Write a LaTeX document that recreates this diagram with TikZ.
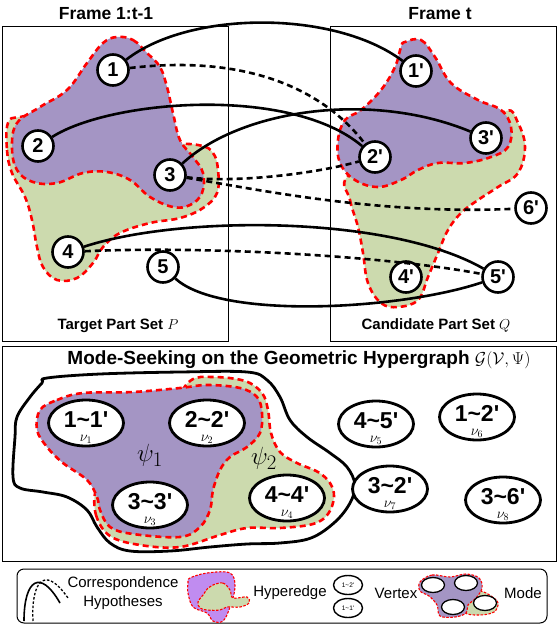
\documentclass[tikz,border=0pt]{standalone}
\usepackage[no-math]{fontspec}
\setmainfont{Liberation Sans}
\usetikzlibrary{shapes.geometric,calc}
\definecolor{hpurple}{RGB}{164,149,196}
\definecolor{hgreen}{RGB}{204,218,174}
\definecolor{lpurple}{RGB}{192,140,240}
\begin{document}
\begin{tikzpicture}[x=1pt,y=-1pt,
  part/.style={circle,draw,line width=2.6pt,fill=white,minimum size=31pt,inner sep=0pt,font=\fontsize{20}{22}\selectfont\bfseries},
  vert/.style={ellipse,draw,line width=2.8pt,fill=white,minimum width=75pt,minimum height=46pt,inner sep=0pt},
  verttext/.style={font=\fontsize{23}{25}\selectfont\bfseries,inner sep=0pt,text height=16.5pt,text depth=0pt},
  nulab/.style={font=\fontsize{14}{14}\selectfont,inner sep=0pt,text height=6.3pt,text depth=2.3pt},
  hypo/.style={line width=2.6pt},
  hypod/.style={line width=2.6pt,dash pattern=on 6pt off 4pt},
  hedge/.style={draw=red,line width=2.6pt,dash pattern=on 6pt off 4pt},
  sedge/.style={draw=red,line width=1.1pt,dash pattern=on 2.5pt off 1.5pt},
  boxline/.style={draw,line width=1pt},
  title/.style={font=\fontsize{17.5}{20}\selectfont\bfseries,inner sep=0pt},
  settext/.style={font=\fontsize{15}{17}\selectfont\bfseries,inner sep=0pt},
  legtext/.style={font=\fontsize{15}{19}\selectfont,inner sep=0pt,align=center},
  minivert/.style={ellipse,draw,line width=1.4pt,fill=white,minimum width=29pt,minimum height=19pt,inner sep=0pt,font=\fontsize{6.5}{7}\selectfont},
  modevert/.style={ellipse,draw,line width=1.3pt,fill=white,minimum width=23pt,minimum height=15pt,inner sep=0pt},
]
\useasboundingbox (0,0) rectangle (558,626);
\fill[white] (0,0) rectangle (558,626);

% ---- frames
\draw[boxline] (2,27) rectangle (228,341);
\draw[boxline] (330,27) rectangle (556,341);
\node[title] (tl) at (106,14) {Frame 1:t-1};
\node[title] (tr) at (440,14) {Frame t};
\node[settext] (ps) at (118,326) {Target Part Set \normalfont$P$};
\node[settext] (qs) at (436,325) {Candidate Part Set \normalfont$Q$};

% ---- hyperedges, top left
\filldraw[fill=hgreen,hedge] plot[smooth cycle,tension=0.65] coordinates {
 (8,123) (7,150) (12,173) (25,197) (32,220) (37,247) (43,267) (57,280) (77,278) (93,263) (103,247) (120,233) (150,223) (180,218) (203,208) (217,193) (218,170) (213,153) (198,145) (150,140) (60,115) (20,117)};
\filldraw[fill=hpurple,hedge] plot[smooth cycle,tension=0.65] coordinates {
 (117,37) (133,40) (147,53) (160,67) (167,87) (173,113) (180,140) (193,157) (203,173) (202,193) (190,205) (173,207) (150,197) (130,180) (107,172) (83,173) (57,183) (33,182) (17,170) (12,147) (17,123) (40,107) (67,90) (87,63) (103,43)};

% ---- hyperedges, top right
\filldraw[fill=hgreen,hedge] plot[smooth cycle,tension=0.65] coordinates {
 (348,176) (350,200) (358,227) (363,253) (368,283) (381,303) (398,307) (418,300) (428,277) (438,253) (448,230) (461,213) (478,200) (498,187) (518,173) (525,147) (518,123) (506,111) (470,140) (400,150)};
\filldraw[fill=hpurple,hedge] plot[smooth cycle,tension=0.65] coordinates {
 (405,42) (421,40) (435,57) (451,83) (478,100) (501,110) (511,127) (508,147) (491,157) (465,163) (438,163) (418,170) (401,180) (378,187) (355,180) (340,163) (338,140) (345,120) (361,110) (381,90) (395,67) (401,47)};

% ---- part nodes
\node[part] (n1) at (113,70) {1};
\node[part] (n2) at (38,146) {2};
\node[part] (n3) at (170,175) {3};
\node[part] (n4) at (68,252) {4};
\node[part] (n5) at (163,267) {5};
\node[part] (m1) at (416,71) {1\textquotesingle};
\node[part] (m2) at (375,157) {2\textquotesingle};
\node[part] (m3) at (486,138) {3\textquotesingle};
\node[part] (m6) at (531,208) {6\textquotesingle};
\node[part] (m4) at (406,277) {4\textquotesingle};
\node[part] (m5) at (498,277) {5\textquotesingle};

% ---- correspondence hypotheses
\draw[hypo] (n1) .. controls (190,10) and (335,10) .. (m1);
\draw[hypod] (n1) .. controls (240,55) and (320,85) .. (m2);
\draw[hypo] (n2) .. controls (110,100) and (290,85) .. (m2);
\draw[hypo] (n3) .. controls (240,110) and (370,90) .. (m3);
\draw[hypod] (n3) .. controls (230,183) and (310,175) .. (m2);
\draw[hypod] (n3) .. controls (260,190) and (380,215) .. (m6);
\draw[hypo] (n4) .. controls (180,215) and (390,215) .. (m5);
\draw[hypod] (n4) .. controls (200,246) and (380,255) .. (m5);
\draw[hypo] (n5) .. controls (220,320) and (400,310) .. (m5);

% ---- middle panel
\draw[boxline] (2,346) rectangle (556,561);
\node[font=\fontsize{19}{21}\selectfont\bfseries,inner sep=0pt] (mt) at (299,360) {Mode-Seeking on the Geometric Hypergraph \normalfont$\mathcal{G}(\mathcal{V},\Psi)$};

\draw[line width=2.8pt] plot[smooth cycle,tension=0.6] coordinates {
 (47,378) (100,374) (180,372) (247,372) (267,380) (280,397) (290,420) (307,437) (330,453) (347,467) (355,485) (350,503) (335,522) (311,538) (280,543) (247,544) (210,547) (170,551) (130,551) (110,543) (97,527) (87,510) (67,497) (43,492) (20,488) (13,477) (15,437) (17,417) (30,397) (42,383)};

\filldraw[fill=hgreen,hedge] plot[smooth cycle,tension=0.6] coordinates {
 (96,490) (96,515) (110,536) (140,545) (180,547) (220,535) (247,528) (280,528) (313,524) (328,514) (334,497) (330,483) (318,472) (297,463) (280,452) (271,433) (268,410) (262,393) (245,381) (213,377) (190,381) (170,410) (140,450) (110,478)};
\filldraw[fill=hpurple,hedge] plot[smooth cycle,tension=0.6] coordinates {
 (40,410) (57,400) (83,393) (133,392) (180,388) (207,385) (240,388) (257,397) (262,413) (260,433) (247,447) (230,457) (220,470) (213,490) (210,510) (200,527) (180,537) (133,534) (110,527) (100,510) (97,497) (87,480) (63,463) (47,447) (37,430)};

\node[font=\fontsize{32}{34}\selectfont,inner sep=0pt] (psi1) at (150,455) {$\psi_1$};
\node[font=\fontsize{32}{34}\selectfont,inner sep=0pt] (psi2) at (264,458) {$\psi_2$};

\foreach \nm/\px/\py/\ta/\tb/\k in {v1/86/423/1/1/1, v2/207/423/2/2/2, v3/150/505/3/3/3, v4/287/498/4/4/4, v5/376/424/4/5/5, v6/477/417/1/2/6, v7/390/489/3/2/7, v8/503/500/3/6/8}{
  \node[vert] (\nm) at (\px,\py) {};
  \node[verttext] (\nm t) at ($(\nm.center)+(0,-4)$) {\ta\textasciitilde\tb\textquotesingle};
  \node[nulab] (\nm n) at ($(\nm.center)+(0,16.5)$) {$\nu_{\k}$};
}

% ---- legend
\draw[line width=1pt,rounded corners=7pt] (17,569) rectangle (547,623);
\draw[line width=1.6pt] (24,621) .. controls (24,580) and (40,568) .. (60,603);
\draw[line width=1.3pt,dash pattern=on 2.5pt off 1.8pt] (33,621) .. controls (31,585) and (43,562) .. (68,598);
\node[legtext] (lt1) at (123,593) {Correspondence\\Hypotheses};

\filldraw[fill=lpurple,sedge] plot[smooth cycle,tension=0.6] coordinates {
 (190,578) (207,573) (230,573) (235,587) (230,607) (223,621) (213,621) (207,613) (193,607) (188,593) (188,583)};
\filldraw[fill=hgreen,sedge] plot[smooth cycle,tension=0.6] coordinates {
 (213,585) (223,583) (230,590) (233,598) (247,597) (249,603) (240,607) (227,607) (220,610) (207,610) (200,608) (198,602) (203,595) (208,588)};
\node[legtext] (lt2) at (290,593) {Hyperedge};

\node[minivert] (lv1) at (348,585) {1\textasciitilde2\textquotesingle};
\node[minivert] (lv2) at (348,608) {1\textasciitilde1\textquotesingle};
\node[legtext] (lt3) at (396,593) {Vertex};

\filldraw[fill=hgreen,sedge] plot[smooth cycle,tension=0.6] coordinates {
 (468,594) (480,591) (491,596) (498,603) (494,612) (480,615) (465,613) (464,603)};
\filldraw[fill=hpurple,sedge] plot[smooth cycle,tension=0.6] coordinates {
 (420,582) (432,575) (450,577) (466,574) (479,578) (482,588) (476,598) (468,605) (466,613) (455,617) (440,616) (437,605) (429,596) (420,591)};
\node[modevert] (mv1) at (433,585) {};
\node[modevert] (mv2) at (466,583) {};
\node[modevert] (mv3) at (453,607) {};
\node[modevert] (mv4) at (485,603) {};
\node[legtext] (lt4) at (523,593) {Mode};
\end{tikzpicture}
\end{document}
